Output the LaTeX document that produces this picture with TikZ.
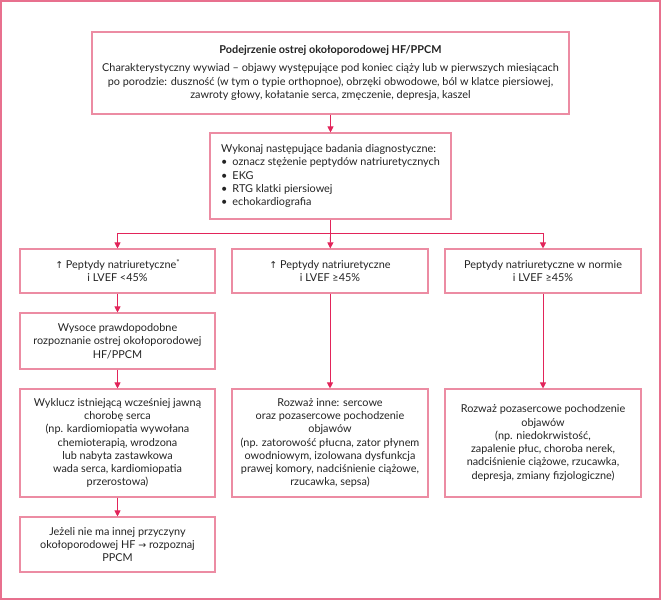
\documentclass[tikz,border=0pt]{standalone}
\usepackage{fontspec}
\setmainfont{Lato}
\newfontfamily\symf{DejaVu Sans}
\usetikzlibrary{arrows.meta}
\definecolor{boxpink}{RGB}{236,140,163}
\definecolor{framepink}{RGB}{232,112,142}
\definecolor{arrowred}{RGB}{226,36,90}
\definecolor{txt}{RGB}{35,35,35}
\newcommand{\upar}{{\symf\fontsize{9.5}{10}\selectfont ↑}}
\newcommand{\rtar}{{\symf\fontsize{9.5}{10}\selectfont →}}
\tikzset{
  box/.style={draw=boxpink, line width=1.1bp, align=center, inner sep=3bp,
    font=\fontsize{10.9}{13.3}\selectfont, text=txt},
  conn/.style={draw=arrowred, line width=0.9bp},
  arr/.style={conn, -{Triangle[length=6bp,width=6bp]}},
}
\begin{document}
\begin{tikzpicture}[x=1bp,y=-1bp]
\useasboundingbox (0,0) rectangle (661,600);
\draw[framepink, line width=1.6bp] (0.8,0.8) rectangle (660.2,599.2);

\node[box, minimum width=477bp, minimum height=82bp] (top) at (330.5,73)
  {{\bfseries Podejrzenie ostrej okołoporodowej HF/PPCM}\\[5bp]
   Charakterystyczny wywiad – objawy występujące pod koniec ciąży lub w pierwszych miesiącach\\
   po porodzie: duszność (w tym o typie orthopnoe), obrzęki obwodowe, ból w klatce piersiowej,\\
   zawroty głowy, kołatanie serca, zmęczenie, depresja, kaszel};

\node[box, minimum width=241bp, minimum height=86bp, align=left] (diag) at (330.5,176)
  {Wykonaj następujące badania diagnostyczne:\\
   \textbullet\hspace{5bp}oznacz stężenie peptydów natriuretycznych\\
   \textbullet\hspace{5bp}EKG\\
   \textbullet\hspace{5bp}RTG klatki piersiowej\\
   \textbullet\hspace{5bp}echokardiografia};

\node[box, minimum width=195bp, minimum height=44bp] (r1l) at (117.5,271)
  {\upar\ Peptydy natriuretyczne\raisebox{0.5ex}{\fontsize{8}{8}\selectfont *}\\ i LVEF <45\%};
\node[box, minimum width=196bp, minimum height=44bp] (r1m) at (330,271)
  {\upar\ Peptydy natriuretyczne\\ i LVEF ≥45\%};
\node[box, minimum width=196bp, minimum height=44bp] (r1r) at (543,271)
  {Peptydy natriuretyczne w normie\\ i LVEF ≥45\%};

\node[box, minimum width=195bp, minimum height=56bp] (wys) at (117.5,341)
  {Wysoce prawdopodobne\\ rozpoznanie ostrej okołoporodowej\\ HF/PPCM};

\node[box, minimum width=195bp, minimum height=108bp] (r3l) at (117.5,443)
  {Wyklucz istniejącą wcześniej jawną\\ chorobę serca\\ (np. kardiomiopatia wywołana\\
   chemioterapią, wrodzona\\ lub nabyta zastawkowa\\ wada serca, kardiomiopatia\\ przerostowa)};
\node[box, minimum width=196bp, minimum height=108bp] (r3m) at (330,443)
  {Rozważ inne: sercowe\\ oraz pozasercowe pochodzenie\\ objawów\\
   (np. zatorowość płucna, zator płynem\\ owodniowym, izolowana dysfunkcja\\
   prawej komory, nadciśnienie ciążowe,\\ rzucawka, sepsa)};
\node[box, minimum width=196bp, minimum height=108bp] (r3r) at (543,443)
  {Rozważ pozasercowe pochodzenie\\ objawów\\ (np. niedokrwistość,\\
   zapalenie płuc, choroba nerek,\\ nadciśnienie ciążowe, rzucawka,\\
   depresja, zmiany fizjologiczne)};

\node[box, minimum width=195bp, minimum height=55bp] (ppcm) at (117.5,544.5)
  {Jeżeli nie ma innej przyczyny\\ okołoporodowej HF \rtar\ rozpoznaj\\ PPCM};

\coordinate (br) at (330.5,233);
\draw[arr] (top) -- (diag);
\draw[conn] (diag) -- (br);
\draw[arr] (br) -| (r1l);
\draw[arr] (br) -- (r1m);
\draw[arr] (br) -| (r1r);
\draw[arr] (r1l) -- (wys);
\draw[arr] (wys) -- (r3l);
\draw[arr] (r1m) -- (r3m);
\draw[arr] (r1r) -- (r3r);
\draw[arr] (r3l) -- (ppcm);
\end{tikzpicture}
\end{document}
